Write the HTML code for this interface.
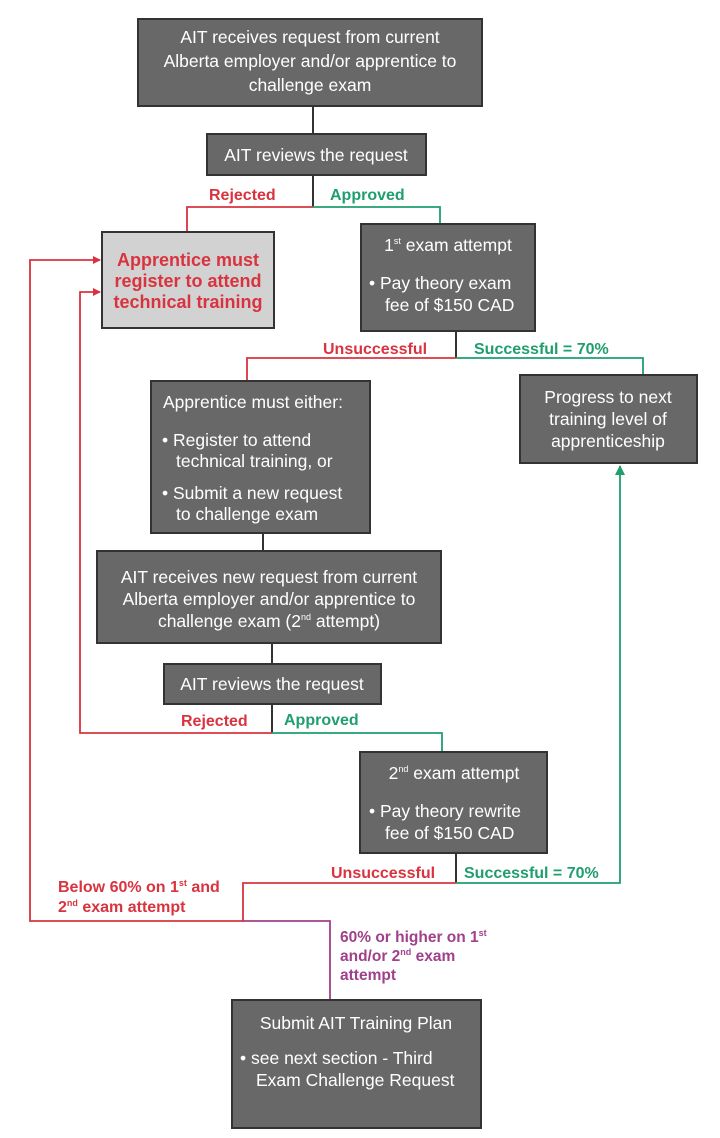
<!DOCTYPE html>
<html><head><meta charset="utf-8"><style>
html,body{margin:0;padding:0;background:#fff;width:720px;height:1138px;overflow:hidden}
svg{display:block}
text{font-family:"Liberation Sans",Arial,sans-serif}
.w{fill:#fff;font-size:17.5px}
.r{fill:#d9333f;font-size:16px;font-weight:bold}
.g{fill:#1f9e6e;font-size:16px;font-weight:bold}
.p{fill:#a0408a;font-size:15.5px;font-weight:bold}
.box{fill:#686868;stroke:#333;stroke-width:2}
</style></head><body>
<svg width="720" height="1138" viewBox="0 0 720 1138">
<defs>
<marker id="ar" markerWidth="8" markerHeight="8" refX="7" refY="4" orient="auto" markerUnits="userSpaceOnUse"><path d="M0,0 L8,4 L0,8z" fill="#d9333f"/></marker>
<marker id="ag" markerWidth="10" markerHeight="10" refX="9" refY="5" orient="auto" markerUnits="userSpaceOnUse"><path d="M0,0 L10,5 L0,10z" fill="#1f9e6e"/></marker>
</defs>
<g stroke="#333" stroke-width="2" fill="none">
<line x1="313" y1="106" x2="313" y2="134"/>
<line x1="313" y1="175" x2="313" y2="207"/>
<line x1="456" y1="331" x2="456" y2="358"/>
<line x1="263" y1="532" x2="263" y2="551"/>
<line x1="272" y1="643" x2="272" y2="664"/>
<line x1="272" y1="704" x2="272" y2="733"/>
<line x1="456" y1="853" x2="456" y2="883"/>
</g>
<g stroke="#d9333f" stroke-width="1.8" fill="none">
<polyline points="313,207 187,207 187,232"/>
<polyline points="456,358 247,358 247,381"/>
<polyline points="272,733 80,733 80,292 100,292" marker-end="url(#ar)"/>
<polyline points="456,883 243,883 243,921 30,921 30,260 100,260" marker-end="url(#ar)"/>
</g>
<g stroke="#1f9e6e" stroke-width="1.8" fill="none">
<polyline points="313,207 440,207 440,224"/>
<polyline points="456,358 643,358 643,375"/>
<polyline points="272,733 442,733 442,752"/>
<polyline points="456,883 620,883 620,466" marker-end="url(#ag)"/>
</g>
<polyline points="243,921 330,921 330,1000" stroke="#a0408a" stroke-width="1.8" fill="none"/>

<rect class="box" x="138" y="19" width="344" height="87"/>
<text class="w" text-anchor="middle" x="310" y="43">AIT receives request from current</text>
<text class="w" text-anchor="middle" x="310" y="67">Alberta employer and/or apprentice to</text>
<text class="w" text-anchor="middle" x="310" y="91">challenge exam</text>

<rect class="box" x="207" y="134" width="219" height="41"/>
<text class="w" text-anchor="middle" x="316" y="161">AIT reviews the request</text>

<text class="r" x="209" y="200">Rejected</text>
<text class="g" x="330" y="200">Approved</text>

<rect x="102" y="232" width="172" height="96" fill="#d2d2d2" stroke="#333" stroke-width="2"/>
<text class="r" style="font-size:18px" text-anchor="middle" x="188" y="266">Apprentice must</text>
<text class="r" style="font-size:18px" text-anchor="middle" x="188" y="287">register to attend</text>
<text class="r" style="font-size:18px" text-anchor="middle" x="188" y="308">technical training</text>

<rect class="box" x="361" y="224" width="174" height="107"/>
<text class="w" text-anchor="middle" x="448" y="251">1<tspan style="font-size:9px" dy="-7">st</tspan><tspan dy="7"> exam attempt</tspan></text>
<text class="w" x="369" y="289">• Pay theory exam</text>
<text class="w" x="385" y="311">fee of $150 CAD</text>

<text class="r" x="323" y="354">Unsuccessful</text>
<text class="g" x="474" y="354">Successful = 70%</text>

<rect class="box" x="151" y="381" width="219" height="152"/>
<text class="w" x="163" y="408">Apprentice must either:</text>
<text class="w" x="162" y="446">• Register to attend</text>
<text class="w" x="176" y="467">technical training, or</text>
<text class="w" x="162" y="499">• Submit a new request</text>
<text class="w" x="176" y="520">to challenge exam</text>

<rect class="box" x="520" y="375" width="177" height="88"/>
<text class="w" text-anchor="middle" x="608" y="403">Progress to next</text>
<text class="w" text-anchor="middle" x="608" y="425">training level of</text>
<text class="w" text-anchor="middle" x="608" y="447">apprenticeship</text>

<rect class="box" x="97" y="551" width="344" height="92"/>
<text class="w" text-anchor="middle" x="269" y="583">AIT receives new request from current</text>
<text class="w" text-anchor="middle" x="269" y="605">Alberta employer and/or apprentice to</text>
<text class="w" text-anchor="middle" x="269" y="627">challenge exam (2<tspan style="font-size:9px" dy="-7">nd</tspan><tspan dy="7"> attempt)</tspan></text>

<rect class="box" x="164" y="664" width="217" height="40"/>
<text class="w" text-anchor="middle" x="272" y="690">AIT reviews the request</text>

<text class="r" x="181" y="726">Rejected</text>
<text class="g" x="284" y="725">Approved</text>

<rect class="box" x="360" y="752" width="187" height="101"/>
<text class="w" text-anchor="middle" x="454" y="779">2<tspan style="font-size:9px" dy="-7">nd</tspan><tspan dy="7"> exam attempt</tspan></text>
<text class="w" x="369" y="817">• Pay theory rewrite</text>
<text class="w" x="385" y="839">fee of $150 CAD</text>

<text class="r" x="331" y="878">Unsuccessful</text>
<text class="g" x="464" y="878">Successful = 70%</text>

<text class="r" x="58" y="892">Below 60% on 1<tspan style="font-size:9px" dy="-6">st</tspan><tspan dy="6"> and</tspan></text>
<text class="r" x="58" y="912">2<tspan style="font-size:9px" dy="-6">nd</tspan><tspan dy="6"> exam attempt</tspan></text>

<text class="p" x="340" y="942">60% or higher on 1<tspan style="font-size:9px" dy="-6">st</tspan></text>
<text class="p" x="340" y="961">and/or 2<tspan style="font-size:9px" dy="-6">nd</tspan><tspan dy="6"> exam</tspan></text>
<text class="p" x="340" y="980">attempt</text>

<rect class="box" x="232" y="1000" width="249" height="128"/>
<text class="w" text-anchor="middle" x="356" y="1029">Submit AIT Training Plan</text>
<text class="w" x="240" y="1064">• see next section - Third</text>
<text class="w" x="256" y="1086">Exam Challenge Request</text>
</svg>
</body></html>
